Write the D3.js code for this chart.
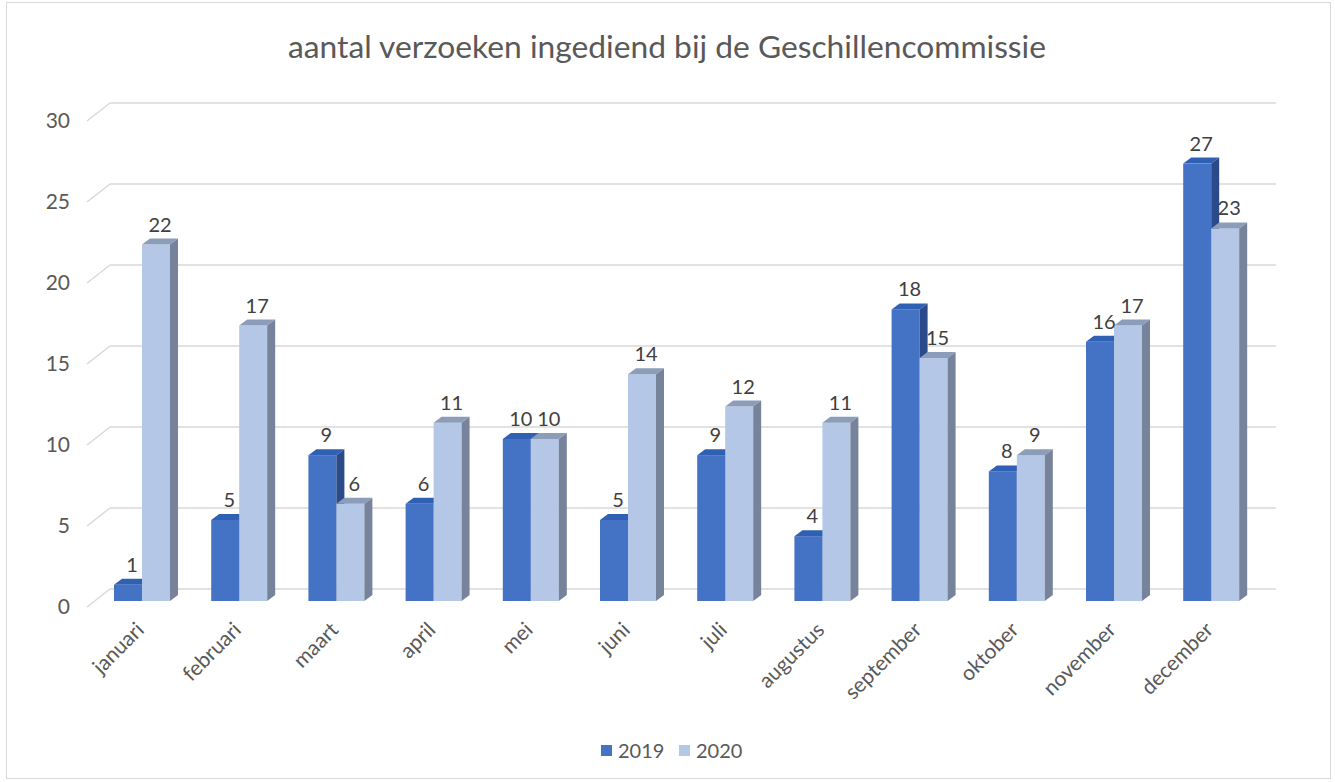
<!DOCTYPE html>
<html>
<head>
<meta charset="utf-8">
<script src="https://cdn.jsdelivr.net/npm/d3@7"></script>
<style>
  html, body { margin: 0; padding: 0; background: #fff; }
  svg { display: block; font-family: Lato, "Open Sans", sans-serif; }
</style>
</head>
<body>
<svg id="chart" width="1335" height="782"></svg>
<script>
const title = "aantal verzoeken ingediend bij de Geschillencommissie";
const months = ["januari","februari","maart","april","mei","juni","juli","augustus","september","oktober","november","december"];
const seriesNames = ["2019","2020"];
const values2019 = [1,5,9,6,10,5,9,4,18,8,16,27];
const values2020 = [22,17,6,11,10,14,12,11,15,9,17,23];
const yTicks = [0,5,10,15,20,25,30];

const colors = {
  "2019": {front:"#4472C4", top:"#3060B4", side:"#2B4A8A"},
  "2020": {front:"#B4C7E7", top:"#8C9DBA", side:"#76839B"}
};

const svg = d3.select("#chart");

// border
svg.append("rect").attr("x",6.5).attr("y",2.5).attr("width",1324).attr("height",776)
  .attr("fill","none").attr("stroke","#d9d9d9").attr("stroke-width",1);

// scales
const y = d3.scaleLinear().domain([0,30]).range([601,115]);
const backOff = -12, wallDx = 23, wallDy = 18;
const x0 = d3.scaleBand().domain(months).range([93.4, 93.4 + 12*97.2]).paddingInner(0.424).paddingOuter(0.212);
const x1 = d3.scaleBand().domain(seriesNames).range([0, x0.bandwidth()]);
const depthDx = 8, depthDy = -6;

// title
const t = svg.append("text").attr("x", 667).attr("y", 58).attr("text-anchor","middle")
  .attr("fill","#595959").style("font-size","27px").text(title);
const tl = t.node().getComputedTextLength();
t.style("font-size", (27*758/tl).toFixed(2)+"px");

// grid: back wall + left wall diagonal
const grid = svg.append("g");
const backLeft = 110, backRight = 1276;
yTicks.forEach(v => {
  const yb = y(v) + backOff;
  grid.append("line").attr("x1",backLeft).attr("x2",backRight).attr("y1",yb).attr("y2",yb)
    .attr("stroke","#d9d9d9").attr("stroke-width",1.5);
  grid.append("line").attr("x1",backLeft - wallDx).attr("y1",yb + wallDy).attr("x2",backLeft).attr("y2",yb)
    .attr("stroke","#d9d9d9").attr("stroke-width",1.5);
  svg.append("text").attr("x",70).attr("y",yb + wallDy).attr("dy","0.35em").attr("text-anchor","end")
    .attr("fill","#595959").style("font-size","21px").text(v);
});

// bars
const data = months.map((m,i) => ({month:m, vals:[{s:"2019",v:values2019[i]},{s:"2020",v:values2020[i]}]}));
const groups = svg.append("g").selectAll("g").data(data).join("g");
groups.each(function(d){
  const g = d3.select(this);
  d.vals.forEach(b => {
    const xl = x0(d.month) + x1(b.s), w = x1.bandwidth();
    const yt = y(b.v), yb = y(0);
    const c = colors[b.s];
    g.append("rect").attr("x",xl).attr("y",yt).attr("width",w).attr("height",yb-yt).attr("fill",c.front);
    g.append("path").attr("d",`M${xl},${yt}L${xl+w},${yt}L${xl+w+depthDx},${yt+depthDy}L${xl+depthDx},${yt+depthDy}Z`).attr("fill",c.top);
    g.append("path").attr("d",`M${xl+w},${yt}L${xl+w+depthDx},${yt+depthDy}L${xl+w+depthDx},${yb+depthDy}L${xl+w},${yb}Z`).attr("fill",c.side);
  });
  d.vals.forEach(b => {
    const xl = x0(d.month) + x1(b.s), w = x1.bandwidth();
    g.append("text").attr("x", xl + w/2 + depthDx/2).attr("y", y(b.v) + depthDy - 7)
      .attr("text-anchor","middle").attr("fill","#404040").style("font-size","20px").text(b.v);
  });
});

// x labels
const xl = svg.append("g");
months.forEach(m => {
  const cx = x0(m) + 26, cy = 626;
  xl.append("text").attr("transform",`translate(${cx},${cy}) rotate(-45)`)
    .attr("text-anchor","end").attr("dy","0.35em").attr("fill","#595959").style("font-size","21px").text(m);
});

// legend
const leg = svg.append("g");
const legX = [601, 679];
seriesNames.forEach((s,i) => {
  leg.append("rect").attr("x",legX[i]).attr("y",745).attr("width",11).attr("height",11).attr("fill",colors[s].front);
  leg.append("text").attr("x",legX[i]+17).attr("y",758).attr("fill","#595959").style("font-size","20px").text(s);
});
</script>
</body>
</html>
